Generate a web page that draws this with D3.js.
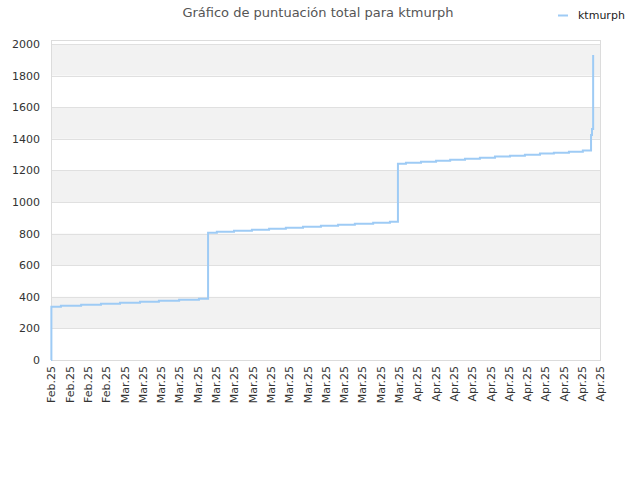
<!DOCTYPE html>
<html>
<head>
  <meta charset="utf-8">
  <title>Gráfico de puntuación total para ktmurph</title>
  <script src="https://d3js.org/d3.v7.min.js"></script>
  <style>
    body { margin: 0; background: #fff; }
    text { font-family: "DejaVu Sans", sans-serif; }
  </style>
</head>
<body>
  <svg id="chart" width="640" height="480"></svg>

  <script>
    // Serie: fecha/hora del cambio y puntuación total
    const times = [
      "2025-02-21 00:00", "2025-02-21 01:00", "2025-02-22 02:00", "2025-02-24 07:00",
      "2025-02-26 11:00", "2025-02-28 13:00", "2025-03-02 17:30", "2025-03-04 19:00",
      "2025-03-07 00:00", "2025-03-09 04:00", "2025-03-10 04:00", "2025-03-11 03:00",
      "2025-03-13 00:00", "2025-03-14 23:00", "2025-03-16 20:00", "2025-03-18 16:00",
      "2025-03-20 13:00", "2025-03-22 12:00", "2025-03-24 09:00", "2025-03-26 05:00",
      "2025-03-28 05:00", "2025-03-30 01:00", "2025-03-30 22:00", "2025-03-31 19:00",
      "2025-04-02 10:30", "2025-04-04 02:00", "2025-04-05 15:00", "2025-04-07 06:00",
      "2025-04-08 21:00", "2025-04-10 12:30", "2025-04-12 04:00", "2025-04-13 19:00",
      "2025-04-15 10:30", "2025-04-16 23:00", "2025-04-18 14:30", "2025-04-20 03:00",
      "2025-04-21 00:30", "2025-04-21 03:00", "2025-04-21 06:00"
    ];
    const scores = [
      0, 337, 344, 350,
      356, 363, 369, 375,
      382, 388, 806, 812,
      818, 825, 831, 837,
      844, 850, 856, 863,
      869, 875, 1242, 1249,
      1255, 1261, 1268, 1274,
      1280, 1287, 1293, 1299,
      1306, 1312, 1318, 1325,
      1424, 1462, 1930
    ];
    const seriesName = "ktmurph";
    const yTicks = [0, 200, 400, 600, 800, 1000, 1200, 1400, 1600, 1800, 2000];
    const xStart = "2025-02-21 00:00";
    const xEnd = "2025-04-22 00:00";

    const parse = d3.timeParse("%Y-%m-%d %H:%M");
    const data = times.map((t, i) => ({ date: parse(times[i]), value: scores[i] }));

    const svg = d3.select("#chart");
    const plotLeft = 51, plotRight = 600, plotTop = 40, plotBottom = 360;

    const x = d3.scaleTime().domain([parse(xStart), parse(xEnd)]).range([plotLeft, plotRight]);
    const y = d3.scaleLinear().domain([0, 2025]).range([plotBottom, plotTop]);

    // Bandas alternas
    const bands = svg.append("g");
    yTicks.forEach((t, i) => {
      if (i % 2 === 1) {
        const hi = i === yTicks.length - 1 ? y.domain()[1] : yTicks[i + 1];
        bands.append("rect")
          .attr("x", plotLeft).attr("width", plotRight - plotLeft)
          .attr("y", y(hi)).attr("height", y(t) - y(hi))
          .attr("fill", "#f2f2f2");
      }
    });

    // Rejilla
    svg.append("g")
      .selectAll("line")
      .data(yTicks)
      .join("line")
      .attr("x1", plotLeft).attr("x2", plotRight)
      .attr("y1", d => Math.round(y(d)) + 0.5).attr("y2", d => Math.round(y(d)) + 0.5)
      .attr("stroke", "#e0e0e0");

    // Marco
    svg.append("rect")
      .attr("x", plotLeft + 0.5).attr("y", plotTop + 0.5)
      .attr("width", plotRight - plotLeft).attr("height", plotBottom - plotTop)
      .attr("fill", "none").attr("stroke", "#dcdcdc");

    // Eje Y
    const yAxis = svg.append("g")
      .attr("transform", `translate(${plotLeft},0)`)
      .call(d3.axisLeft(y).tickValues(yTicks).tickFormat(d3.format("d")).tickSize(0).tickPadding(11));
    yAxis.select(".domain").remove();
    yAxis.selectAll("text").attr("fill", "#333").style("font-size", "11px");

    // Eje X
    const xTickDates = d3.timeDay.range(parse(xStart), d3.timeDay.offset(parse(xEnd), 1), 2);
    const xAxis = svg.append("g")
      .attr("transform", `translate(0,${plotBottom})`)
      .call(d3.axisBottom(x).tickValues(xTickDates).tickFormat(d3.timeFormat("%b.%y")).tickSize(0));
    xAxis.select(".domain").remove();
    xAxis.selectAll("text")
      .attr("fill", "#333")
      .style("font-size", "11px")
      .attr("transform", "rotate(-90)")
      .attr("x", -6).attr("y", 0).attr("dy", "0.35em")
      .attr("text-anchor", "end");

    // Línea escalonada
    const line = d3.line()
      .x(d => x(d.date))
      .y(d => y(d.value))
      .curve(d3.curveStepAfter);
    svg.append("path")
      .datum(data)
      .attr("d", line)
      .attr("fill", "none")
      .attr("stroke", "#9ecbf5")
      .attr("stroke-width", 2);

    // Título
    svg.append("text")
      .attr("x", 318).attr("y", 17)
      .attr("text-anchor", "middle")
      .attr("fill", "#555")
      .style("font-size", "13px")
      .text("Gráfico de puntuación total para " + seriesName);

    // Leyenda
    svg.append("line")
      .attr("x1", 558).attr("x2", 568).attr("y1", 15.5).attr("y2", 15.5)
      .attr("stroke", "#9ecbf5").attr("stroke-width", 2);
    svg.append("text")
      .attr("x", 578).attr("y", 19)
      .attr("fill", "#222")
      .style("font-size", "11px")
      .text(seriesName);
  </script>
</body>
</html>
